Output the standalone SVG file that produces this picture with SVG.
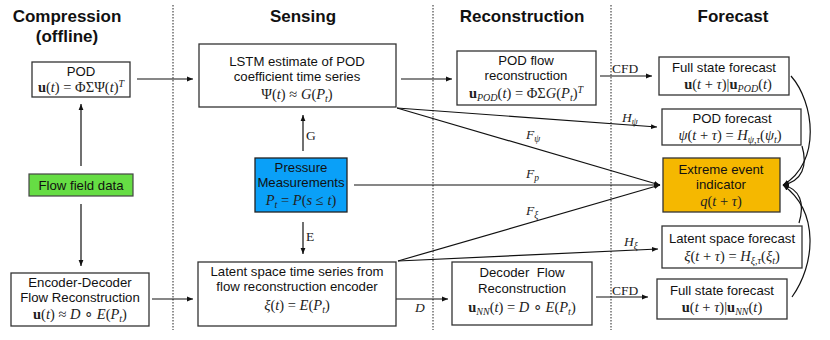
<svg xmlns="http://www.w3.org/2000/svg" width="830" height="340" viewBox="0 0 830 340">
<defs>
<marker id="ah" viewBox="0 0 10 10" refX="10" refY="5" markerWidth="6" markerHeight="6" orient="auto" markerUnits="userSpaceOnUse">
<path d="M0,1 L10,5 L0,9 z" fill="#111"/>
</marker>
</defs>
<style>
.bx{fill:#fff;stroke:#333;stroke-width:1.3}
.t{font-family:"Liberation Sans",Arial,sans-serif;font-size:13.2px;fill:#111;text-anchor:middle}
.h{font-family:"Liberation Sans",Arial,sans-serif;font-size:17px;font-weight:bold;fill:#111;text-anchor:middle}
.m{font-family:"Liberation Serif","Times New Roman",serif;font-size:14.5px;fill:#222;text-anchor:middle}
.lb{font-family:"Liberation Serif","Times New Roman",serif;font-size:13.5px;fill:#222}
.i{font-style:italic}
.b{font-weight:bold}
.ln{stroke:#111;stroke-width:1.2;fill:none}
.dot{stroke:#222;stroke-width:1;stroke-dasharray:1.5 1.5;fill:none}
</style>

<g id="headings">
<text class="h" x="67" y="22">Compression</text>
<text class="h" x="67" y="42">(offline)</text>
<text class="h" x="303" y="22">Sensing</text>
<text class="h" x="522" y="22">Reconstruction</text>
<text class="h" x="733" y="22">Forecast</text>
</g>

<g id="dividers">
<line class="dot" x1="173" y1="5" x2="173" y2="330"/>
<line class="dot" x1="433" y1="5" x2="433" y2="330"/>
<line class="dot" x1="611" y1="5" x2="611" y2="330"/>
</g>

<g id="connectors">
<line class="ln" x1="81" y1="166" x2="81" y2="104" marker-end="url(#ah)"/>
<line class="ln" x1="81" y1="204" x2="81" y2="266" marker-end="url(#ah)"/>
<line class="ln" x1="137" y1="79" x2="193" y2="79" marker-end="url(#ah)"/>
<line class="ln" x1="152" y1="299" x2="193" y2="299" marker-end="url(#ah)"/>
<line class="ln" x1="303" y1="151" x2="303" y2="115" marker-end="url(#ah)"/>
<line class="ln" x1="303" y1="222" x2="303" y2="254" marker-end="url(#ah)"/>
<line class="ln" x1="401" y1="79" x2="452" y2="79" marker-end="url(#ah)"/>
<line class="ln" x1="600" y1="76" x2="652" y2="76" marker-end="url(#ah)"/>
<line class="ln" x1="397" y1="108" x2="657" y2="127" marker-end="url(#ah)"/>
<line class="ln" x1="397" y1="108" x2="660" y2="185" marker-end="url(#ah)"/>
<line class="ln" x1="354" y1="185" x2="660" y2="185" marker-end="url(#ah)"/>
<line class="ln" x1="398" y1="261" x2="660" y2="185" marker-end="url(#ah)"/>
<line class="ln" x1="398" y1="261" x2="658" y2="249" marker-end="url(#ah)"/>
<line class="ln" x1="396" y1="299" x2="448" y2="299" marker-end="url(#ah)"/>
<line class="ln" x1="596" y1="297" x2="648" y2="297" marker-end="url(#ah)"/>
<path class="ln" d="M791,76 C814,102 822,162 783,185" marker-end="url(#ah)"/>
<path class="ln" d="M802,146 C808,166 802,181 783,185" marker-end="url(#ah)"/>
<path class="ln" d="M799,223 C805,203 800,189 783,185" marker-end="url(#ah)"/>
<path class="ln" d="M792,297 C815,265 820,212 783,185" marker-end="url(#ah)"/>
<text class="lb" x="306" y="140">G</text>
<text class="lb" x="306" y="241">E</text>
<text class="lb" x="612" y="73">CFD</text>
<text class="lb" x="612" y="295">CFD</text>
<text class="lb i" x="415" y="312">D</text>
<text class="lb i" x="622" y="122">H<tspan dy="3" font-size="9.5">ψ</tspan></text>
<text class="lb i" x="526" y="139">F<tspan dy="3" font-size="9.5">ψ</tspan></text>
<text class="lb i" x="526" y="178">F<tspan dy="3" font-size="9.5">p</tspan></text>
<text class="lb i" x="526" y="215">F<tspan dy="3" font-size="9.5">ξ</tspan></text>
<text class="lb i" x="624" y="246">H<tspan dy="3" font-size="9.5">ξ</tspan></text>
</g>

<g id="pod">
<rect class="bx" x="32" y="62" width="98" height="35"/>
<text class="t" x="81" y="76">POD</text>
<text class="m" x="81" y="92"><tspan class="b">u</tspan>(<tspan class="i">t</tspan>) = ΦΣΨ(<tspan class="i">t</tspan>)<tspan dy="-5" font-size="10" class="i">T</tspan></text>
</g>

<g id="flow-field-data">
<rect x="29" y="174" width="104" height="22" fill="#66DD44" stroke="#444" stroke-width="1.2"/>
<text class="t" x="81" y="190">Flow field data</text>
</g>

<g id="encoder-decoder">
<rect class="bx" x="11" y="273" width="138" height="53"/>
<text class="t" x="80" y="287">Encoder-Decoder</text>
<text class="t" x="80" y="302">Flow Reconstruction</text>
<text class="m" x="80" y="319"><tspan class="b">u</tspan>(<tspan class="i">t</tspan>) ≈ <tspan class="i">D</tspan> ∘ <tspan class="i">E</tspan>(<tspan class="i">P</tspan><tspan dy="3" font-size="10" class="i">t</tspan><tspan dy="-3">)</tspan></text>
</g>

<g id="lstm">
<rect class="bx" x="199" y="44" width="197" height="63"/>
<text class="t" x="297" y="66">LSTM estimate of POD</text>
<text class="t" x="297" y="81">coefficient time series</text>
<text class="m" x="297" y="99">Ψ(<tspan class="i">t</tspan>) ≈ <tspan class="i">G</tspan>(<tspan class="i">P</tspan><tspan dy="3" font-size="10" class="i">t</tspan><tspan dy="-3">)</tspan></text>
</g>

<g id="pressure">
<rect x="255" y="158" width="92" height="54" fill="#0AA0F8" stroke="#222" stroke-width="1.3"/>
<text class="t" x="301" y="172">Pressure</text>
<text class="t" x="301" y="187">Measurements</text>
<text class="m" x="301" y="205"><tspan class="i">P</tspan><tspan dy="3" font-size="10" class="i">t</tspan><tspan dy="-3"> = </tspan><tspan class="i">P</tspan>(<tspan class="i">s</tspan> ≤ <tspan class="i">t</tspan>)</text>
</g>

<g id="latent">
<rect class="bx" x="198" y="262" width="198" height="64"/>
<text class="t" x="297" y="276">Latent space time series from</text>
<text class="t" x="297" y="291">flow reconstruction encoder</text>
<text class="m" x="297" y="310"><tspan class="i">ξ</tspan>(<tspan class="i">t</tspan>) = <tspan class="i">E</tspan>(<tspan class="i">P</tspan><tspan dy="3" font-size="10" class="i">t</tspan><tspan dy="-3">)</tspan></text>
</g>

<g id="pod-flow-reconstruction">
<rect class="bx" x="457" y="51" width="139" height="54"/>
<text class="t" x="526" y="65">POD flow</text>
<text class="t" x="526" y="80">reconstruction</text>
<text class="m" x="526" y="98"><tspan class="b">u</tspan><tspan dy="3" font-size="10" class="i">POD</tspan><tspan dy="-3">(</tspan><tspan class="i">t</tspan>) = ΦΣ<tspan class="i">G</tspan>(<tspan class="i">P</tspan><tspan dy="3" font-size="10" class="i">t</tspan><tspan dy="-3">)</tspan><tspan dy="-5" font-size="10" class="i">T</tspan></text>
</g>

<g id="decoder-flow-reconstruction">
<rect class="bx" x="452" y="262" width="140" height="63"/>
<text class="t" x="522" y="277">Decoder&#160; Flow</text>
<text class="t" x="522" y="293">Reconstruction</text>
<text class="m" x="522" y="312"><tspan class="b">u</tspan><tspan dy="3" font-size="10" class="i">NN</tspan><tspan dy="-3">(</tspan><tspan class="i">t</tspan>) = <tspan class="i">D</tspan> ∘ <tspan class="i">E</tspan>(<tspan class="i">P</tspan><tspan dy="3" font-size="10" class="i">t</tspan><tspan dy="-3">)</tspan></text>
</g>

<g id="full-state-pod">
<rect class="bx" x="659" y="57" width="130" height="38"/>
<text class="t" x="724" y="72">Full state forecast</text>
<text class="m" x="728" y="89"><tspan class="b">u</tspan>(<tspan class="i">t</tspan> + <tspan class="i">τ</tspan>)|<tspan class="b">u</tspan><tspan dy="3" font-size="10" class="i">POD</tspan><tspan dy="-3">(</tspan><tspan class="i">t</tspan>)</text>
</g>

<g id="pod-forecast">
<rect class="bx" x="662" y="109" width="139" height="36"/>
<text class="t" x="732" y="123">POD forecast</text>
<text class="m" x="730" y="140"><tspan class="i">ψ</tspan>(<tspan class="i">t</tspan> + <tspan class="i">τ</tspan>) = <tspan class="i">H</tspan><tspan dy="3" font-size="10" class="i">ψ,τ</tspan><tspan dy="-3">(</tspan><tspan class="i">ψ</tspan><tspan dy="3" font-size="10" class="i">t</tspan><tspan dy="-3">)</tspan></text>
</g>

<g id="extreme-event-indicator">
<rect x="663" y="158" width="117" height="54" fill="#F5B800" stroke="#333" stroke-width="1.3"/>
<text class="t" x="721" y="174">Extreme event</text>
<text class="t" x="721" y="189">indicator</text>
<text class="m" x="721" y="206"><tspan class="i">q</tspan>(<tspan class="i">t</tspan> + <tspan class="i">τ</tspan>)</text>
</g>

<g id="latent-forecast">
<rect class="bx" x="662" y="226" width="140" height="42"/>
<text class="t" x="732" y="243">Latent space forecast</text>
<text class="m" x="732" y="261"><tspan class="i">ξ</tspan>(<tspan class="i">t</tspan> + <tspan class="i">τ</tspan>) = <tspan class="i">H</tspan><tspan dy="3" font-size="10" class="i">ξ,τ</tspan><tspan dy="-3">(</tspan><tspan class="i">ξ</tspan><tspan dy="3" font-size="10" class="i">t</tspan><tspan dy="-3">)</tspan></text>
</g>

<g id="full-state-nn">
<rect class="bx" x="657" y="279" width="130" height="40"/>
<text class="t" x="722" y="295">Full state forecast</text>
<text class="m" x="722" y="312"><tspan class="b">u</tspan>(<tspan class="i">t</tspan> + <tspan class="i">τ</tspan>)|<tspan class="b">u</tspan><tspan dy="3" font-size="10" class="i">NN</tspan><tspan dy="-3">(</tspan><tspan class="i">t</tspan>)</text>
</g>
</svg>
